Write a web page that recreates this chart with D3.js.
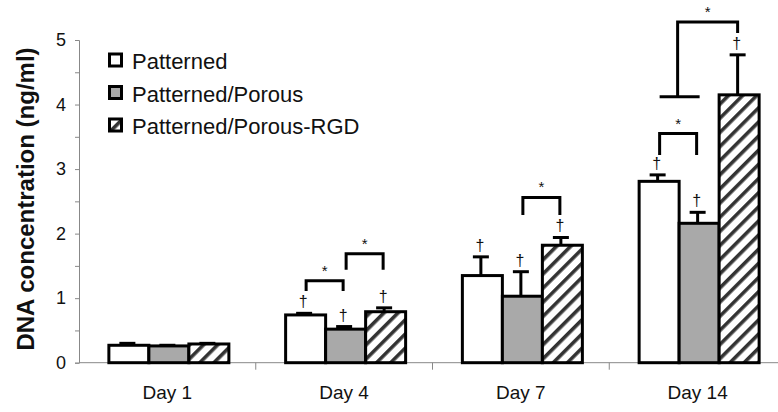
<!DOCTYPE html>
<html>
<head>
<meta charset="utf-8">
<script src="https://cdn.jsdelivr.net/npm/d3@7"></script>
<style>
  body { margin: 0; background: #fff; }
  text { font-family: "Liberation Sans", Arial, sans-serif; fill: #111; -webkit-font-smoothing: antialiased; }
</style>
</head>
<body>
<div id="chart"></div>
<script>
var days = ["Day 1", "Day 4", "Day 7", "Day 14"];
var series = ["Patterned", "Patterned/Porous", "Patterned/Porous-RGD"];
// mean DNA per day, one value per series
var means = [
  [0.27, 0.26, 0.29],
  [0.74, 0.52, 0.79],
  [1.35, 1.03, 1.82],
  [2.81, 2.16, 4.15]
];
var errs = [
  [0.03, 0.01, 0.01],
  [0.025, 0.04, 0.06],
  [0.29, 0.38, 0.12],
  [0.10, 0.17, 0.62]
];
// dagger marks: [day index, series index]
var daggers = [[1,0],[1,1],[1,2],[2,0],[2,1],[2,2],[3,0],[3,1],[3,2]];
// significance brackets: day, from series, to series, top value, leg bottom value
var brackets = [
  [1, 0, 1, 1.27, 1.11],
  [1, 1, 2, 1.69, 1.44],
  [2, 1, 2, 2.56, 2.29],
  [3, 0, 1, 3.55, 3.22]
];
var yTicks = [0, 1, 2, 3, 4, 5];

var W = 778, H = 412;
var svg = d3.select("#chart").append("svg").attr("width", W).attr("height", H);

var y = d3.scaleLinear().domain([0, 5]).range([362.7, 40]);
var x0 = d3.scaleBand().domain(days).range([79, 786]);
var groupW = 120;
var x1 = d3.scaleBand().domain(series).range([0, groupW]);
var gx = function (d) { return x0(d) + (x0.bandwidth() - groupW) / 2; };
var cx = function (di, si) { return gx(days[di]) + x1(series[si]) + x1.bandwidth() / 2; };

var fills = ["#ffffff", "#a9a9a9", "url(#hatch)"];

var defs = svg.append("defs");
var pat = defs.append("pattern")
  .attr("id", "hatch")
  .attr("patternUnits", "userSpaceOnUse")
  .attr("width", 10).attr("height", 10)
  .attr("patternTransform", "rotate(45)");
pat.append("rect").attr("width", 10).attr("height", 10).attr("fill", "#fff");
pat.append("rect").attr("x", 0).attr("width", 3.6).attr("height", 10).attr("fill", "#333");

// y axis
var yAxis = d3.axisLeft(y).tickValues(d3.range(0, 5.01, 0.5)).tickSize(4)
  .tickFormat(function (d) { return yTicks.indexOf(d) >= 0 ? d : ""; });
var ya = svg.append("g").attr("transform", "translate(79,0)").call(yAxis);
ya.select(".domain").attr("stroke", "#888");
ya.selectAll(".tick line").attr("stroke", "#888");
ya.selectAll(".tick text").attr("x", -13).style("font-size", "18px").attr("fill", "#222");

// x axis
var xa = svg.append("g").attr("transform", "translate(0," + y(0) + ")");
xa.append("line").attr("x1", 79).attr("x2", W).attr("stroke", "#888");
xa.selectAll("line.t").data(days.slice(1)).enter().append("line")
  .attr("class", "t")
  .attr("x1", function (d) { return x0(d); }).attr("x2", function (d) { return x0(d); })
  .attr("y1", 0).attr("y2", 7).attr("stroke", "#888");
xa.selectAll("text").data(days).enter().append("text")
  .attr("x", function (d) { return x0(d) + x0.bandwidth() / 2; })
  .attr("y", 36)
  .attr("text-anchor", "middle")
  .style("font-size", "19px")
  .text(function (d) { return d; });

// y label
svg.append("text")
  .attr("transform", "translate(34,199) rotate(-90)")
  .attr("text-anchor", "middle")
  .style("font-size", "24px").style("font-weight", "bold")
  .text("DNA concentration (ng/ml)");

// error bars (drawn first so the bar outline covers the stem base)
var eb = svg.append("g").attr("stroke", "#000").attr("stroke-width", 3);
means.forEach(function (row, di) {
  row.forEach(function (v, si) {
    var c = cx(di, si), top = y(v + errs[di][si]);
    eb.append("line").attr("x1", c).attr("x2", c).attr("y1", y(v)).attr("y2", top);
    eb.append("line").attr("x1", c - 8).attr("x2", c + 8).attr("y1", top).attr("y2", top);
  });
});

// bars
var groups = svg.append("g").selectAll("g").data(means).enter().append("g")
  .attr("transform", function (d, i) { return "translate(" + gx(days[i]) + ",0)"; });
groups.selectAll("rect").data(function (d) { return d; }).enter().append("rect")
  .attr("x", function (d, i) { return x1(series[i]) + 1.5; })
  .attr("y", function (d) { return y(d); })
  .attr("width", x1.bandwidth())
  .attr("height", function (d) { return y(0) - y(d); })
  .attr("fill", function (d, i) { return fills[i]; })
  .attr("stroke", "#000").attr("stroke-width", 3);

// daggers
svg.append("g").selectAll("text").data(daggers).enter().append("text")
  .attr("x", function (d) { return cx(d[0], d[1]) - 1; })
  .attr("y", function (d) { return y(means[d[0]][d[1]] + errs[d[0]][d[1]]) - 6; })
  .attr("text-anchor", "middle")
  .attr("fill", "#111")
  .style("font-size", "16px")
  .text("\u2020");

// brackets
var br = svg.append("g").attr("fill", "none").attr("stroke", "#000").attr("stroke-width", 3);
brackets.forEach(function (b) {
  var a = cx(b[0], b[1]) + 2, c = cx(b[0], b[2]) - 1;
  br.append("path").attr("d", "M" + a + "," + y(b[4]) + "V" + y(b[3]) + "H" + c + "V" + y(b[4]));
  svg.append("text").attr("x", (a + c) / 2).attr("y", y(b[3]) - 5)
    .attr("text-anchor", "middle").style("font-size", "15px").text("*");
});

// Day 14: pooled Patterned + Patterned/Porous vs RGD
var pl = cx(3, 0), pr = cx(3, 1), pm = (pl + pr) / 2, ph = cx(3, 2);
br.append("path").attr("d", "M" + (pl + 2) + "," + y(4.12) + "H" + (pr + 2));
br.append("path").attr("d", "M" + pm + "," + y(4.12) + "V" + y(5.28) + "H" + ph + "V" + y(5.11));
svg.append("text").attr("x", (pm + ph) / 2).attr("y", y(5.28) - 5)
  .attr("text-anchor", "middle").style("font-size", "15px").text("*");

// legend
var lg = svg.append("g").attr("transform", "translate(108,52)");
var li = lg.selectAll("g").data(series).enter().append("g")
  .attr("transform", function (d, i) { return "translate(0," + (i * 32.5) + ")"; });
li.append("rect").attr("x", 1.5).attr("y", 2).attr("width", 12).attr("height", 12)
  .attr("fill", function (d, i) { return fills[i]; })
  .attr("stroke", "#000").attr("stroke-width", 3);
li.append("text").attr("x", 24).attr("y", 17)
  .style("font-size", "22px")
  .text(function (d) { return d; });
</script>
</body>
</html>
